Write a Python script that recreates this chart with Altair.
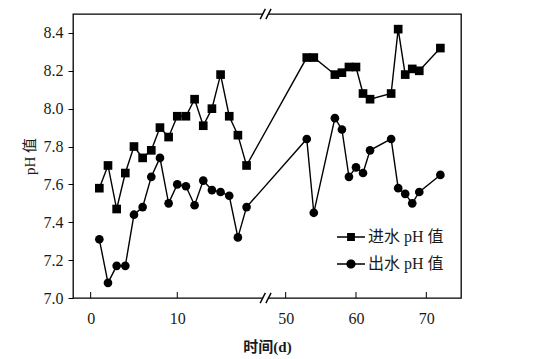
import altair as alt
import pandas as pd

# ---- data ----
days_left = list(range(1, 19))
days_right = [53, 54, 57, 58, 59, 60, 61, 62, 65, 66, 67, 68, 69, 72]
days = days_left + days_right
influent = [7.58, 7.70, 7.47, 7.66, 7.80, 7.74, 7.78, 7.90, 7.85, 7.96, 7.96, 8.05,
            7.91, 8.00, 8.18, 7.96, 7.86, 7.70,
            8.27, 8.27, 8.18, 8.19, 8.22, 8.22, 8.08, 8.05, 8.08, 8.42, 8.18, 8.21, 8.20, 8.32]
effluent = [7.31, 7.08, 7.17, 7.17, 7.44, 7.48, 7.64, 7.74, 7.50, 7.60, 7.59, 7.49,
            7.62, 7.57, 7.56, 7.54, 7.32, 7.48,
            7.84, 7.45, 7.95, 7.89, 7.64, 7.69, 7.66, 7.78, 7.84, 7.58, 7.55, 7.50, 7.56, 7.65]
series = ["进水 pH 值", "出水 pH 值"]
x_tick_days = [0, 10, 50, 60, 70]
y_ticks = [7.0, 7.2, 7.4, 7.6, 7.8, 8.0, 8.2, 8.4]

# ---- broken x axis: left segment 0..BREAK_L days, right segment BREAK_R.. days (compressed) ----
BREAK_L = 20.2
BREAK_R = 47.15
RATIO = 0.812
X_MIN, X_MAX = -2.04, 42.76
Y_MIN, Y_MAX = 7.0, 8.5


def u(d):
    return d if d <= BREAK_L else BREAK_L + (d - BREAK_R) * RATIO


rows = []
for s, vals in zip(series, [influent, effluent]):
    for d, v in zip(days, vals):
        rows.append({"day": d, "u": u(d), "pH": v, "series": s})
df = pd.DataFrame(rows)

ticks_df = pd.DataFrame({"u": [u(d) for d in x_tick_days]})
break_df = pd.DataFrame({"u": [BREAK_L, BREAK_L], "pH": [Y_MAX, Y_MIN]})

# break marks "//": two short slanted strokes on each frame edge, around the break
SL_DX, SL_DY, SL_SEP = 0.3, 0.027, 0.33
slash_rows = []
for yb in [Y_MAX, Y_MIN]:
    for k in [-1, 1]:
        c = BREAK_L + k * SL_SEP
        slash_rows.append({"x1": c - SL_DX, "x2": c + SL_DX, "y1": yb - SL_DY, "y2": yb + SL_DY})
slash_df = pd.DataFrame(slash_rows)

W, H = 388, 284
SERIF = "Liberation Serif, Noto Sans CJK SC"
TXT = "#1a1a1a"

label_expr = (f"datum.value < {BREAK_L} ? format(datum.value, 'd') : "
              f"format(round({BREAK_R} + (datum.value - {BREAK_L}) / {RATIO}), 'd')")

x_scale = alt.Scale(domain=[X_MIN, X_MAX], nice=False, zero=False)
y_scale = alt.Scale(domain=[Y_MIN, Y_MAX], nice=False, zero=False)

x_enc = alt.X("u:Q", scale=x_scale,
              axis=alt.Axis(values=[u(d) for d in x_tick_days], labelExpr=label_expr,
                            ticks=False, domain=False, grid=False, labelPadding=12,
                            title="时间(d)", titleFontWeight="bold", titlePadding=13))
y_enc = alt.Y("pH:Q", scale=y_scale,
              axis=alt.Axis(values=y_ticks, format=".1f", tickSize=5, tickColor="black",
                            domain=False, grid=False, labelPadding=5,
                            title="pH 值", titlePadding=6))

base = alt.Chart(df)

lines = base.mark_line(color="black", strokeWidth=1.4).encode(
    x=x_enc, y=y_enc, detail="series:N")

points = base.mark_point(filled=True, color="black", opacity=1, size=75).encode(
    x=x_enc, y=y_enc,
    shape=alt.Shape("series:N", scale=alt.Scale(domain=series, range=["square", "circle"]),
                    legend=None))

sq_path = ("M-1,-0.05L-0.28,-0.05L-0.28,-0.28L0.28,-0.28L0.28,-0.05L1,-0.05L1,0.05"
           "L0.28,0.05L0.28,0.28L-0.28,0.28L-0.28,0.05L-1,0.05Z")
ci_path = ("M-1,-0.05L-0.3,-0.05L-0.3,0.05L-1,0.05Z M0.3,-0.05L1,-0.05L1,0.05L0.3,0.05Z "
           "M-0.33,0A0.33,0.33 0 1,1 0.33,0A0.33,0.33 0 1,1 -0.33,0Z")

legend_layer = base.mark_point(filled=True, color="black", opacity=1, size=784).encode(
    x=x_enc, y=y_enc,
    shape=alt.Shape("series:N",
                    scale=alt.Scale(domain=series, range=[sq_path, ci_path]),
                    legend=alt.Legend(title=None, orient="none", legendX=264, legendY=209,
                                      labelFont=SERIF, labelFontSize=16, labelColor=TXT,
                                      labelOffset=3, rowPadding=5, symbolSize=784,
                                      symbolFillColor="black", symbolStrokeWidth=0))
).transform_filter("false")

xticks = alt.Chart(ticks_df).mark_rule(color="black", strokeWidth=1).encode(
    x=alt.X("u:Q"), y=alt.value(H), y2=alt.value(H - 6))

gaps = alt.Chart(break_df).mark_point(shape="square", filled=True, color="white",
                                      opacity=1, size=30).encode(x="u:Q", y="pH:Q")
slashes = alt.Chart(slash_df).mark_rule(color="black", strokeWidth=1.4).encode(
    x=alt.X("x1:Q", scale=x_scale), x2="x2:Q",
    y=alt.Y("y1:Q", scale=y_scale), y2="y2:Q")

chart = alt.layer(lines, points, legend_layer, xticks, gaps, slashes).resolve_scale(
    shape="independent"
).properties(
    width=W, height=H,
    autosize=alt.AutoSizeParams(type="none"),
    padding={"left": 65, "top": 6, "right": 66, "bottom": 60}
).configure_view(
    stroke="black", strokeWidth=1.3
).configure_axis(
    labelFont=SERIF, labelFontSize=16, labelColor=TXT,
    titleFont=SERIF, titleFontSize=15, titleColor=TXT, titleFontWeight="normal"
)

chart.save("out.html", embed_options={"renderer": "svg", "actions": False})
